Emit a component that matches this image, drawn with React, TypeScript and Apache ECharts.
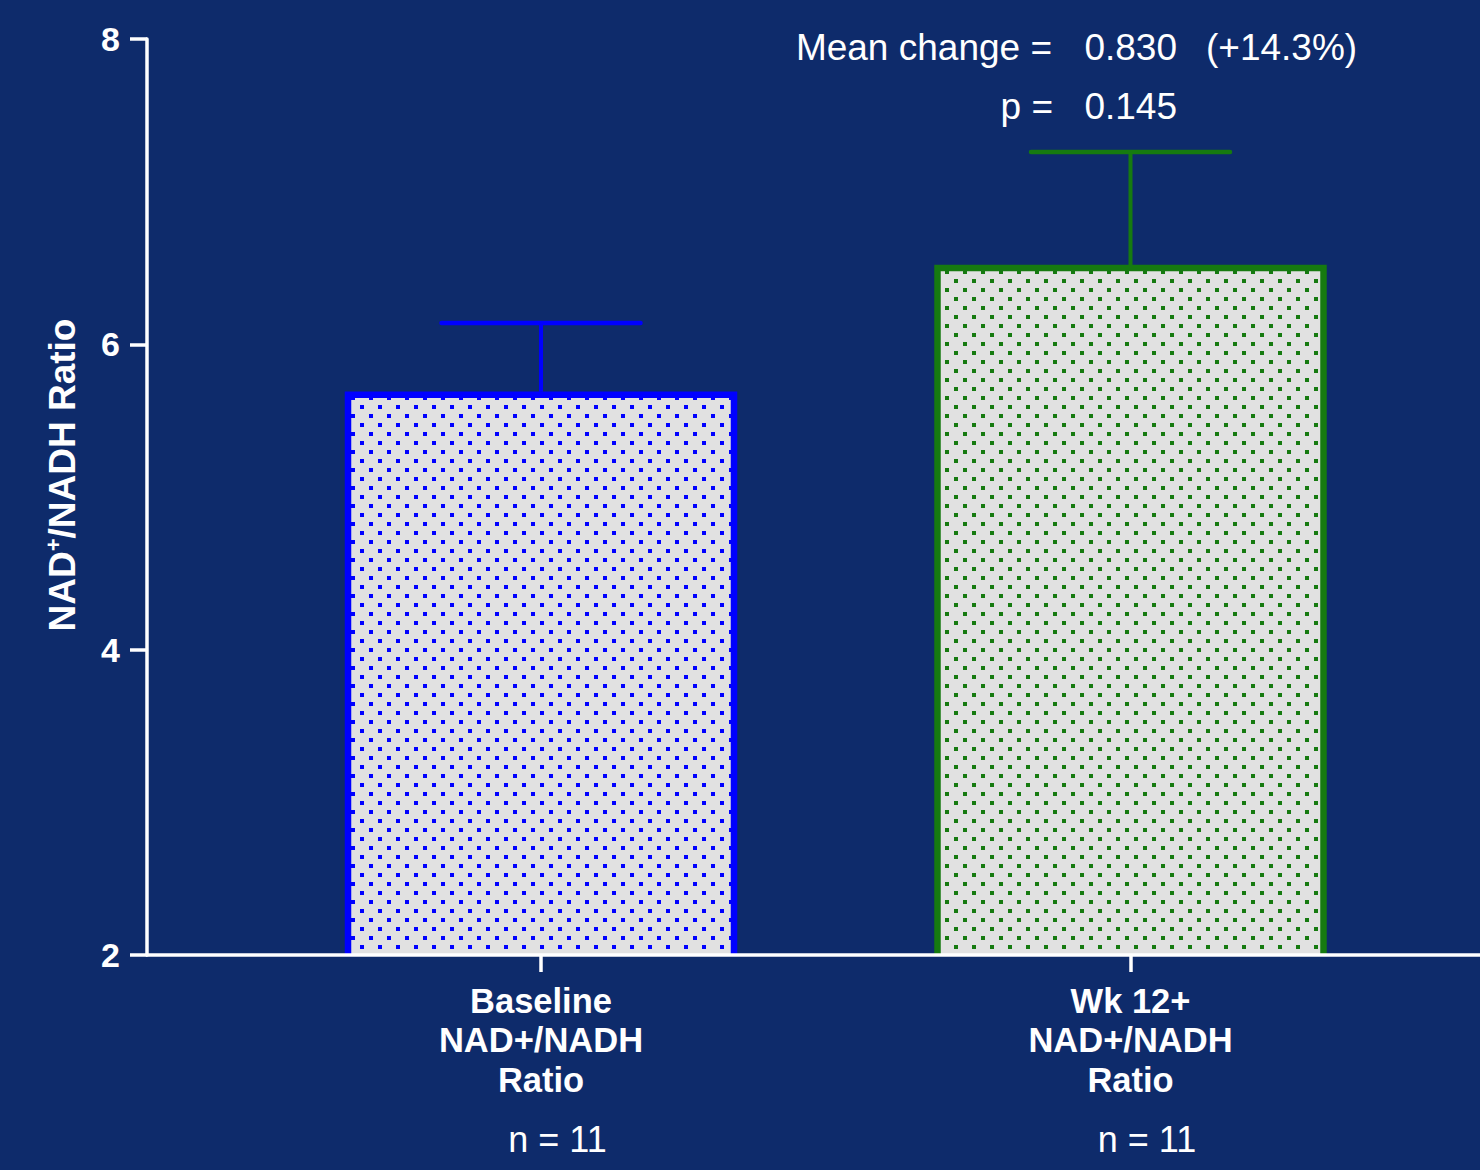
import React, { useEffect, useRef } from "react";
import * as echarts from "echarts";

// Group labels under each bar and the sample sizes printed below them
const categories = ["Baseline\nNAD+/NADH\nRatio", "Wk 12+\nNAD+/NADH\nRatio"];
const groupSizes = ["n = 11", "n = 11"];

// Bar means and the top of each error bar (mean + SEM)
const means = [5.67, 6.5];
const upperErrors = [6.14, 7.26];

// Value axis range
const Y_MIN = 2;
const Y_MAX = 8;
const Y_INTERVAL = 2;

// Summary statistics printed above the bars
const meanChangeLabel = "Mean change =";
const meanChangeValue = "0.830";
const meanChangePct = "(+14.3%)";
const pLabel = "p =";
const pValue = "0.145";

const BG = "#0e2b6b";
const WHITE = "#ffffff";
const FILL = "#e1e1e1";
const groupColors = ["#0000ff", "#167a10"];
const FONT = "'Liberation Sans', Arial, Helvetica, sans-serif";

const BAR_WIDTH = 386;
const CAP_WIDTH = 199;

// Staggered square-dot fill: dots every 18px in a row, alternate rows shifted by half
const dotDecal = (color: string) => ({
  symbol: "rect",
  symbolSize: 1,
  color,
  dashArrayX: [
    [4, 14],
    [0, 9, 4, 5],
  ],
  dashArrayY: [4, 5],
  rotation: 0,
});

export default function App() {
  const ref = useRef<HTMLDivElement>(null);

  useEffect(() => {
    document.body.style.margin = "0";
    document.body.style.background = BG;
    if (!ref.current) return;
    const chart = echarts.init(ref.current, undefined, { renderer: "svg" });

    const barSeries = means.map((m, i) => ({
      type: "bar",
      xAxisIndex: 1,
      yAxisIndex: 1,
      barWidth: BAR_WIDTH,
      barGap: "-100%",
      clip: true,
      data: means.map((_, j) => (j === i ? m : "-")),
      itemStyle: { color: FILL, borderWidth: 0, decal: dotDecal(groupColors[i]) },
      z: 2,
    }));

    // Open-bottomed bar outline plus the upper error bar for each group
    const outlineSeries = means.map((m, i) => ({
      type: "custom",
      xAxisIndex: 1,
      yAxisIndex: 1,
      clip: false,
      z: 3,
      data: [[i, m, upperErrors[i]]],
      encode: { x: 0, y: [1, 2] },
      renderItem: (_params: any, api: any) => {
        const c = api.value(0);
        const base = api.coord([c, Y_MIN]);
        const top = api.coord([c, api.value(1)]);
        const up = api.coord([c, api.value(2)]);
        const half = BAR_WIDTH / 2;
        const color = groupColors[i];
        return {
          type: "group",
          children: [
            {
              type: "polyline",
              shape: {
                points: [
                  [base[0] - half, base[1]],
                  [base[0] - half, top[1]],
                  [base[0] + half, top[1]],
                  [base[0] + half, base[1]],
                ],
              },
              style: { stroke: color, lineWidth: 6.5, fill: null, lineJoin: "miter" },
            },
            {
              type: "line",
              shape: { x1: top[0], y1: top[1] - 3, x2: up[0], y2: up[1] },
              style: { stroke: color, lineWidth: 4 },
            },
            {
              type: "line",
              shape: { x1: up[0] - CAP_WIDTH / 2, y1: up[1], x2: up[0] + CAP_WIDTH / 2, y2: up[1] },
              style: { stroke: color, lineWidth: 4.5, lineCap: "round" },
            },
          ],
        };
      },
    }));

    const statText = (text: string, x: number, y: number, align: string) => ({
      type: "text",
      x,
      y,
      style: {
        text,
        fill: WHITE,
        font: `37px ${FONT}`,
        align,
        verticalAlign: "middle",
      },
    });

    chart.setOption({
      animation: false,
      backgroundColor: BG,
      grid: [
        { left: 147, right: 0, top: 39, bottom: 215 },
        { left: 246.25, right: 54.75, top: 39, bottom: 215 },
      ],
      xAxis: [
        {
          gridIndex: 0,
          type: "value",
          min: 0,
          max: 1,
          z: 10,
          axisLine: { show: true, lineStyle: { color: WHITE, width: 3.5 } },
          axisTick: { show: false },
          axisLabel: { show: false },
          splitLine: { show: false },
        },
        {
          gridIndex: 1,
          type: "category",
          data: categories,
          axisLine: { show: false },
          axisTick: {
            show: true,
            alignWithLabel: true,
            length: 17,
            lineStyle: { color: WHITE, width: 3.5 },
          },
          axisLabel: {
            margin: 26,
            interval: 0,
            formatter: (value: string, idx: number) =>
              value
                .split("\n")
                .map((line) => `{b|${line}}`)
                .join("\n") + `\n{n|${groupSizes[idx]}}`,
            rich: {
              b: {
                color: WHITE,
                fontFamily: FONT,
                fontWeight: "bold",
                fontSize: 34.5,
                lineHeight: 39.5,
              },
              n: {
                color: WHITE,
                fontFamily: FONT,
                fontSize: 36,
                lineHeight: 80,
                padding: [0, 0, 0, 33],
              },
            },
          },
          splitLine: { show: false },
        },
      ],
      yAxis: [
        {
          gridIndex: 0,
          type: "value",
          min: Y_MIN,
          max: Y_MAX,
          interval: Y_INTERVAL,
          axisLine: { show: true, lineStyle: { color: WHITE, width: 3.5 } },
          axisTick: { show: true, length: 17, lineStyle: { color: WHITE, width: 3.5 } },
          axisLabel: {
            margin: 27,
            color: WHITE,
            fontFamily: FONT,
            fontWeight: "bold",
            fontSize: 34,
          },
          splitLine: { show: false },
          name: "{a|NAD}{s|+}{a|/NADH Ratio}",
          nameLocation: "middle",
          nameRotate: 90,
          nameGap: 65,
          nameTextStyle: {
            padding: [0, 0, 0, 44],
            rich: {
              a: {
                color: WHITE,
                fontFamily: FONT,
                fontWeight: "bold",
                fontSize: 37,
                lineHeight: 40,
              },
              s: {
                color: WHITE,
                fontFamily: FONT,
                fontWeight: "bold",
                fontSize: 22,
                lineHeight: 40,
                verticalAlign: "top",
                padding: [0, 0, 14, 0],
              },
            },
          },
        },
        {
          gridIndex: 1,
          type: "value",
          min: Y_MIN,
          max: Y_MAX,
          interval: Y_INTERVAL,
          startValue: Y_MIN,
          show: false,
        },
      ],
      graphic: [
        statText(meanChangeLabel, 1052, 47, "right"),
        statText(meanChangeValue, 1177, 47, "right"),
        statText(meanChangePct, 1206, 47, "left"),
        statText(pLabel, 1053, 106, "right"),
        statText(pValue, 1177, 106, "right"),
      ],
      series: [...barSeries, ...outlineSeries],
    });

    return () => chart.dispose();
  }, []);

  return <div ref={ref} style={{ width: 1480, height: 1170 }} />;
}
